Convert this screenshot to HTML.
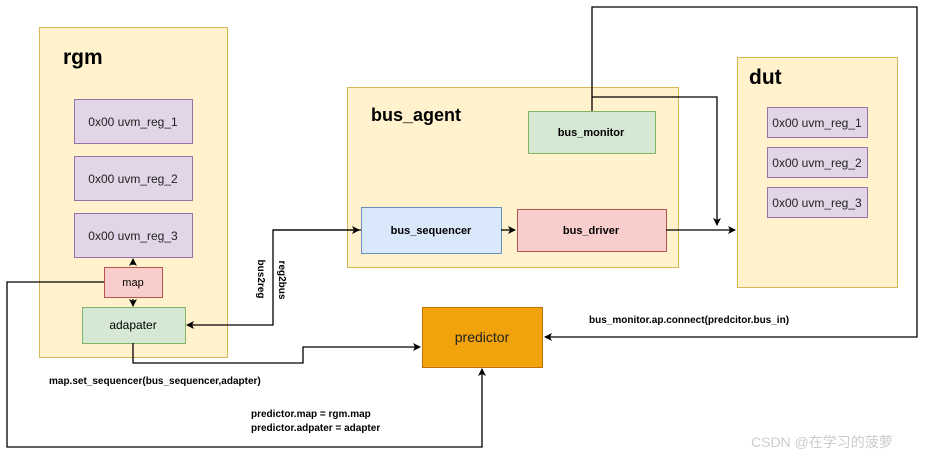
<!DOCTYPE html>
<html><head><style>
body{margin:0;background:#fff;}
svg{font-family:"Liberation Sans",Arial,sans-serif;}
</style></head><body>
<svg width="927" height="457" viewBox="0 0 927 457" xmlns="http://www.w3.org/2000/svg">
<defs><marker id="a" markerWidth="8" markerHeight="8" refX="7" refY="4" orient="auto" markerUnits="userSpaceOnUse"><path d="M0,0 L8,4 L0,8 L2,4 Z" fill="#000"/></marker></defs>
<!-- containers -->
<rect x="39.5" y="27.5" width="188" height="330" fill="#fff2cc" stroke="#d6b656"/>
<rect x="347.5" y="87.5" width="331" height="180" fill="#fff2cc" stroke="#d6b656"/>
<rect x="737.5" y="57.5" width="160" height="230" fill="#fff2cc" stroke="#d6b656"/>
<text x="63" y="64" font-size="21" font-weight="bold">rgm</text>
<text x="371" y="121" font-size="18" font-weight="bold">bus_agent</text>
<text x="749" y="84" font-size="21" font-weight="bold">dut</text>
<g fill="#e1d5e7" stroke="#9673a6">
<rect x="74.5" y="99.5" width="118" height="44"/><rect x="74.5" y="156.5" width="118" height="44"/><rect x="74.5" y="213.5" width="118" height="44"/>
<rect x="767.5" y="107.5" width="100" height="30"/><rect x="767.5" y="147.5" width="100" height="30"/><rect x="767.5" y="187.5" width="100" height="30"/>
</g>
<g font-size="12" text-anchor="middle" fill="#222">
<text x="133" y="126">0x00 uvm_reg_1</text><text x="133" y="183">0x00 uvm_reg_2</text><text x="133" y="240">0x00 uvm_reg_3</text>
<text x="817" y="127">0x00 uvm_reg_1</text><text x="817" y="167">0x00 uvm_reg_2</text><text x="817" y="207">0x00 uvm_reg_3</text>
</g>
<rect x="104.5" y="267.5" width="58" height="30" fill="#f8cecc" stroke="#b85450"/>
<text x="133" y="286" font-size="11" text-anchor="middle">map</text>
<rect x="82.5" y="307.5" width="103" height="36" fill="#d5e8d4" stroke="#82b366"/>
<text x="133" y="329" font-size="12" text-anchor="middle">adapater</text>
<rect x="361.5" y="207.5" width="140" height="46" fill="#dae8fc" stroke="#6c8ebf"/>
<text x="431" y="234" font-size="11" font-weight="bold" text-anchor="middle">bus_sequencer</text>
<rect x="517.5" y="209.5" width="149" height="42" fill="#f8cecc" stroke="#b85450"/>
<text x="591" y="234" font-size="11" font-weight="bold" text-anchor="middle">bus_driver</text>
<rect x="528.5" y="111.5" width="127" height="42" fill="#d5e8d4" stroke="#82b366"/>
<text x="591" y="136" font-size="11" font-weight="bold" text-anchor="middle">bus_monitor</text>
<rect x="422.5" y="307.5" width="120" height="60" fill="#f0a30a" stroke="#bd7000"/>
<text x="482" y="342" font-size="14" text-anchor="middle" fill="#222">predictor</text>
<!-- connectors -->
<g stroke="#000" stroke-width="1.3" fill="none">
<line x1="133" y1="265" x2="133" y2="259" marker-end="url(#a)"/>
<line x1="133" y1="299" x2="133" y2="306" marker-end="url(#a)"/>
<polyline points="104,282 7,282 7,447 482,447 482,369" marker-end="url(#a)"/>
<polyline points="133,343 133,363 303,363 303,347 420,347" marker-end="url(#a)"/>
<polyline points="361,230 273,230 273,325 187,325" marker-end="url(#a)"/>
<polyline points="273,230 359,230" marker-end="url(#a)"/>
<line x1="501" y1="230" x2="515" y2="230" marker-end="url(#a)"/>
<line x1="666" y1="230" x2="735" y2="230" marker-end="url(#a)"/>
<polyline points="592,111 592,7 917,7 917,337 545,337" marker-end="url(#a)"/>
<polyline points="592,97 717,97 717,225" marker-end="url(#a)"/>
</g>
<g font-size="10" font-weight="bold">
<text transform="translate(258,279) rotate(90)" text-anchor="middle">bus2reg</text>
<text transform="translate(279,280) rotate(90)" text-anchor="middle">reg2bus</text>
<text x="49" y="384">map.set_sequencer(bus_sequencer,adapter)</text>
<text x="251" y="417">predictor.map = rgm.map</text>
<text x="251" y="431">predictor.adpater = adapter</text>
<text x="589" y="323">bus_monitor.ap.connect(predcitor.bus_in)</text>
</g>
<text x="751" y="447" font-size="14" fill="#ccc">CSDN @在学习的菠萝</text>
</svg>
</body></html>
